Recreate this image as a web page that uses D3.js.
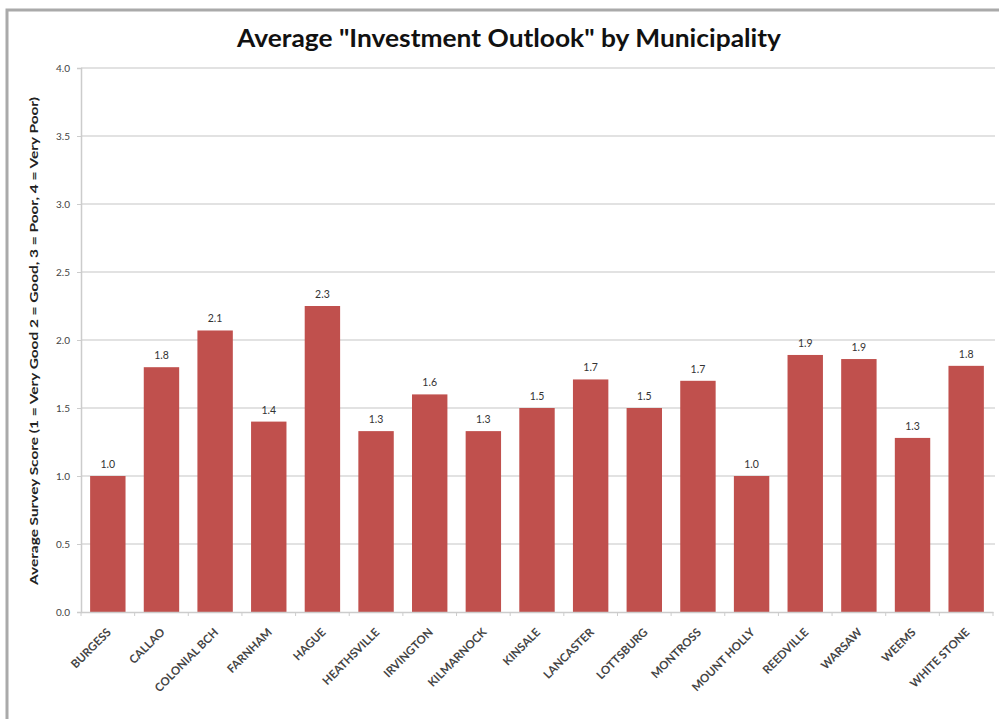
<!DOCTYPE html>
<html>
<head>
<meta charset="utf-8">
<script src="https://cdn.jsdelivr.net/npm/d3@7"></script>
<style>
  body { margin: 0; background: #fff; }
  text { font-family: Lato, "Open Sans", sans-serif; }
</style>
</head>
<body>
<div id="chart"></div>
<script>
const towns = ['BURGESS', 'CALLAO', 'COLONIAL BCH', 'FARNHAM', 'HAGUE', 'HEATHSVILLE',
  'IRVINGTON', 'KILMARNOCK', 'KINSALE', 'LANCASTER', 'LOTTSBURG', 'MONTROSS',
  'MOUNT HOLLY', 'REEDVILLE', 'WARSAW', 'WEEMS', 'WHITE STONE'];
const scores = [1.0, 1.8, 2.07, 1.4, 2.25, 1.33, 1.6, 1.33, 1.5, 1.71, 1.5, 1.7,
  1.0, 1.89, 1.86, 1.28, 1.81];
const yTicks = [0, 0.5, 1, 1.5, 2, 2.5, 3, 3.5, 4];

const width = 999;
const height = 719;
const margin = {top: 68, right: 6, bottom: 107, left: 81};

const svg = d3.select('#chart').append('svg')
  .attr('width', width)
  .attr('height', height);

// outer frame (only top + left edges fall inside the picture)
svg.append('rect').attr('x', 7).attr('y', 10).attr('width', width).attr('height', height)
  .attr('fill', 'none').attr('stroke', '#aaa').attr('stroke-width', 3);

const x = d3.scaleBand()
  .domain(towns)
  .range([margin.left, 993])
  .paddingInner(0.34)
  .paddingOuter(0.17);

const y = d3.scaleLinear()
  .domain([0, 4])
  .range([height - margin.bottom, margin.top]);

// gridlines
svg.append('g')
  .selectAll('line')
  .data(yTicks.slice(1))
  .join('line')
  .attr('x1', margin.left)
  .attr('x2', 995)
  .attr('y1', d => y(d))
  .attr('y2', d => y(d))
  .attr('stroke', '#d9d9d9')
  .attr('stroke-width', 1.5);

// y axis
const yAxis = svg.append('g')
  .attr('transform', `translate(${margin.left},0)`)
  .call(d3.axisLeft(y).tickValues(yTicks).tickFormat(d3.format('.1f')).tickSize(4).tickPadding(7));
yAxis.select('.domain').attr('stroke', '#ccc').attr('stroke-width', 1.5);
yAxis.selectAll('.tick line').attr('stroke', '#ccc');
yAxis.selectAll('text').attr('font-size', 10).attr('fill', '#444');

// bars
svg.append('g')
  .attr('fill', '#C0504D')
  .selectAll('rect')
  .data(scores)
  .join('rect')
  .attr('x', (d, i) => x(towns[i]))
  .attr('y', d => y(d))
  .attr('width', x.bandwidth())
  .attr('height', d => y(0) - y(d));

// value labels
svg.append('g')
  .selectAll('text')
  .data(scores)
  .join('text')
  .attr('x', (d, i) => x(towns[i]) + x.bandwidth() / 2)
  .attr('y', d => y(d) - 8)
  .attr('text-anchor', 'middle')
  .attr('font-size', 10.5)
  .attr('fill', '#333')
  .text(d => d3.format('.1f')(d));

// x axis
const step = x.step();
const xAxis = svg.append('g')
  .attr('transform', `translate(0,${y(0)})`)
  .call(d3.axisBottom(x).tickSize(0).tickPadding(0));
xAxis.select('.domain').attr('stroke', '#ccc').attr('stroke-width', 1.5);
// category boundary ticks
xAxis.selectAll('.sep')
  .data(d3.range(towns.length + 1))
  .join('line')
  .attr('class', 'sep')
  .attr('x1', i => margin.left + i * step)
  .attr('x2', i => margin.left + i * step)
  .attr('y1', 0)
  .attr('y2', 4)
  .attr('stroke', '#ccc');
xAxis.selectAll('.tick text')
  .attr('font-size', 11.5)
  .attr('font-weight', 'bold')
  .attr('fill', '#444')
  .attr('text-anchor', 'end')
  .attr('dy', 0)
  .attr('transform', 'translate(4,21) rotate(-45)');

// title
svg.append('text')
  .attr('x', 509)
  .attr('y', 47)
  .attr('text-anchor', 'middle')
  .attr('font-size', 25)
  .attr('font-weight', 'bold')
  .attr('fill', '#111')
  .attr('textLength', 544)
  .attr('lengthAdjust', 'spacingAndGlyphs')
  .text('Average "Investment Outlook" by Municipality');

// y title
svg.append('text')
  .attr('transform', `translate(38,${(y(0) + y(4)) / 2 + 1}) rotate(-90)`)
  .attr('text-anchor', 'middle')
  .attr('font-size', 12)
  .attr('font-weight', 'bold')
  .attr('fill', '#222')
  .attr('textLength', 488)
  .attr('lengthAdjust', 'spacingAndGlyphs')
  .text('Average Survey Score (1 = Very Good 2 = Good, 3 = Poor, 4 = Very Poor)');
</script>
</body>
</html>
